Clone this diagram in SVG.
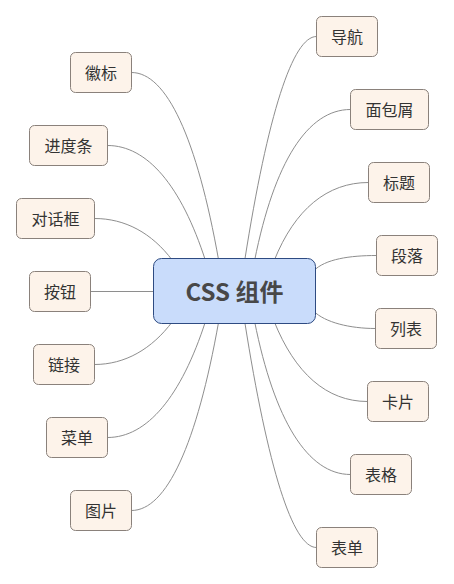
<svg xmlns="http://www.w3.org/2000/svg" width="454" height="584" viewBox="0 0 454 584">
  <style>
    .link { fill: none; stroke: #8e8e8e; stroke-width: 1; }
    .leaf rect { fill: #fdf3ea; stroke: #8a817b; stroke-width: 1; }
    .leaf text { font-family: "Noto Sans CJK SC", "Noto Sans", sans-serif; font-size: 16px; fill: #333333; text-anchor: middle; }
    .root rect { fill: #c9dcfb; stroke: #2e4b82; stroke-width: 1; }
    .root text { font-family: "Noto Sans CJK SC", "Noto Sans", sans-serif; font-size: 24px; font-weight: bold; fill: #484848; text-anchor: middle; }
  </style>
  <rect width="454" height="584" fill="#ffffff"/>

  <!-- connectors: root to each topic -->
  <g id="connectors">
    <!-- left side -->
    <path class="link" d="M218.7,260.5 C196.8,137.6 166.5,72.5 131.5,72.5"/>
    <path class="link" d="M205.6,261 C181.2,185.4 147.1,145.5 107.5,145.5"/>
    <path class="link" d="M172.5,260.5 C151.8,232.8 124.9,218.5 94.5,218.5"/>
    <path class="link" d="M90.5,291.5 L155,291.5"/>
    <path class="link" d="M172.5,321.5 C151.8,349.2 124.9,364.5 94.5,364.5"/>
    <path class="link" d="M205.6,321 C181.2,396.6 147.1,437.5 107.5,437.5"/>
    <path class="link" d="M218.7,321.5 C196.8,444.4 166.5,510.5 131.5,510.5"/>
    <!-- right side -->
    <path class="link" d="M244.7,260.5 C267.8,113.9 292.8,36.5 316.5,36.5"/>
    <path class="link" d="M254.6,260.5 C274.4,161.6 307.8,109.5 350.5,109.5"/>
    <path class="link" d="M274.2,260.5 C294.8,209.1 327.5,182.5 368.5,182.5"/>
    <path class="link" d="M313.5,271 C325,259 350,255.5 376.5,255.5"/>
    <path class="link" d="M313.5,311 C325,322.5 350,328.5 375.5,328.5"/>
    <path class="link" d="M274.2,321.5 C294.8,372.9 326.5,401.5 367.5,401.5"/>
    <path class="link" d="M254.6,321.5 C274.4,420.4 307.8,474.5 350.5,474.5"/>
    <path class="link" d="M244.7,321.5 C267.8,468.1 292.8,547.5 316.5,547.5"/>
  </g>

  <!-- central topic -->
  <g id="root" class="root">
    <rect x="153.5" y="258.5" width="162" height="65" rx="8" ry="8"/>
    <text x="234.5" y="300.5">CSS 组件</text>
  </g>

  <!-- left topics -->
  <g id="node-huibiao" class="leaf">
    <rect x="70.5" y="52.5" width="61" height="40" rx="5" ry="5"/>
    <text x="101" y="78.5">徽标</text>
  </g>
  <g id="node-jindutiao" class="leaf">
    <rect x="29.5" y="125.5" width="78" height="40" rx="5" ry="5"/>
    <text x="68.5" y="151.5">进度条</text>
  </g>
  <g id="node-duihuakuang" class="leaf">
    <rect x="16.5" y="198.5" width="78" height="40" rx="5" ry="5"/>
    <text x="55.5" y="224.5">对话框</text>
  </g>
  <g id="node-anniu" class="leaf">
    <rect x="29.5" y="271.5" width="61" height="40" rx="5" ry="5"/>
    <text x="60" y="297.5">按钮</text>
  </g>
  <g id="node-lianjie" class="leaf">
    <rect x="33.5" y="344.5" width="61" height="40" rx="5" ry="5"/>
    <text x="64" y="370.5">链接</text>
  </g>
  <g id="node-caidan" class="leaf">
    <rect x="46.5" y="417.5" width="61" height="40" rx="5" ry="5"/>
    <text x="77" y="443.5">菜单</text>
  </g>
  <g id="node-tupian" class="leaf">
    <rect x="70.5" y="490.5" width="61" height="40" rx="5" ry="5"/>
    <text x="101" y="516.5">图片</text>
  </g>

  <!-- right topics -->
  <g id="node-daohang" class="leaf">
    <rect x="316.5" y="16.5" width="61" height="40" rx="5" ry="5"/>
    <text x="347" y="42.5">导航</text>
  </g>
  <g id="node-mianbaoxie" class="leaf">
    <rect x="350.5" y="89.5" width="78" height="40" rx="5" ry="5"/>
    <text x="389.5" y="115.5">面包屑</text>
  </g>
  <g id="node-biaoti" class="leaf">
    <rect x="368.5" y="162.5" width="61" height="40" rx="5" ry="5"/>
    <text x="399" y="188.5">标题</text>
  </g>
  <g id="node-duanluo" class="leaf">
    <rect x="376.5" y="235.5" width="61" height="40" rx="5" ry="5"/>
    <text x="407" y="261.5">段落</text>
  </g>
  <g id="node-liebiao" class="leaf">
    <rect x="375.5" y="308.5" width="61" height="40" rx="5" ry="5"/>
    <text x="406" y="334.5">列表</text>
  </g>
  <g id="node-kapian" class="leaf">
    <rect x="367.5" y="381.5" width="61" height="40" rx="5" ry="5"/>
    <text x="398" y="407.5">卡片</text>
  </g>
  <g id="node-biaoge" class="leaf">
    <rect x="350.5" y="454.5" width="61" height="40" rx="5" ry="5"/>
    <text x="381" y="480.5">表格</text>
  </g>
  <g id="node-biaodan" class="leaf">
    <rect x="316.5" y="527.5" width="61" height="40" rx="5" ry="5"/>
    <text x="347" y="553.5">表单</text>
  </g>
</svg>
